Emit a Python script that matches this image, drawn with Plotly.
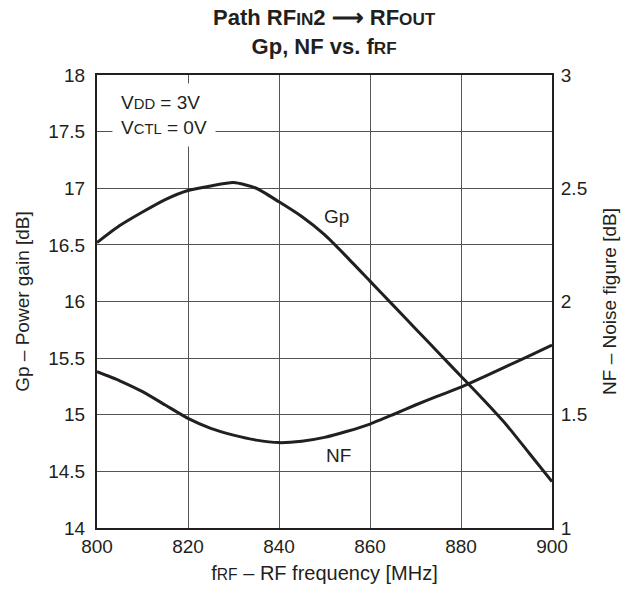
import plotly.graph_objects as go

freq = [800, 805, 810, 815, 820, 825, 830, 835, 840, 845, 850, 855, 860, 865, 870, 875, 880, 885, 890, 895, 900]
gp = [16.52, 16.67, 16.79, 16.90, 16.98, 17.02, 17.05, 17.00, 16.88, 16.75, 16.59, 16.39, 16.18, 15.97, 15.76, 15.55, 15.34, 15.13, 14.91, 14.66, 14.41]
nf = [1.69, 1.65, 1.602, 1.543, 1.484, 1.44, 1.41, 1.388, 1.377, 1.383, 1.40, 1.427, 1.459, 1.50, 1.543, 1.583, 1.622, 1.667, 1.714, 1.76, 1.808]

x_ticks = [800, 820, 840, 860, 880, 900]
gp_ticks = [14, 14.5, 15, 15.5, 16, 16.5, 17, 17.5, 18]
nf_ticks = [1, 1.5, 2, 2.5, 3]

FONT = "Liberation Sans, Arial, sans-serif"
INK = "#231f20"
GRID = "#555555"
SM = "font-size:0.78em"

fig = go.Figure()
fig.add_trace(go.Scatter(x=freq, y=gp, mode="lines", line=dict(color=INK, width=3, shape="spline", smoothing=0.6),
                         showlegend=False, yaxis="y"))
fig.add_trace(go.Scatter(x=freq, y=nf, mode="lines", line=dict(color=INK, width=3, shape="spline", smoothing=0.6),
                         showlegend=False, yaxis="y2"))

axis_common = dict(showline=True, linecolor=INK, linewidth=2, mirror=True, ticks="", automargin=False,
                   tickfont=dict(family=FONT, size=19, color=INK), zeroline=False)

fig.update_layout(
    width=631, height=596,
    margin=dict(l=97, r=79, t=75, b=68),
    paper_bgcolor="white", plot_bgcolor="white",
    font=dict(family=FONT, color=INK),
    xaxis=dict(range=[800, 900], tickvals=x_ticks, showgrid=True, gridcolor=GRID, gridwidth=1,
               title=dict(text=f"f<span style='{SM}'>RF</span> – RF frequency [MHz]",
                          font=dict(family=FONT, size=20, color=INK), standoff=10),
               **axis_common),
    yaxis=dict(range=[14, 18], tickvals=gp_ticks, showgrid=True, gridcolor=GRID, gridwidth=1,
               ticklabelstandoff=6,
               title=dict(text="Gp – Power gain [dB]", font=dict(family=FONT, size=19, color=INK), standoff=14),
               **axis_common),
    yaxis2=dict(range=[1, 3], tickvals=nf_ticks, overlaying="y", side="right", showgrid=False,
                ticklabelstandoff=3,
                title=dict(text="NF – Noise figure [dB]", font=dict(family=FONT, size=19, color=INK), standoff=16),
                **axis_common),
)

fig.add_annotation(
    xref="paper", yref="paper", x=0.5, y=1.095, showarrow=False,
    text=(f"<b>Path RF<span style='{SM}'>IN</span>2 ⟶ RF<span style='{SM}'>OUT</span></b><br>"
          f"<b>Gp, NF vs. f<span style='{SM}'>RF</span></b>"),
    font=dict(family=FONT, size=22, color=INK), yanchor="middle", align="center",
)

fig.add_annotation(
    xref="x", yref="y", x=803.4, y=17.93, xanchor="left", yanchor="top", showarrow=False, align="left",
    text=(f"V<span style='{SM}'>DD</span> = 3V<br>V<span style='{SM}'>CTL</span> = 0V"),
    font=dict(family=FONT, size=19, color=INK), bgcolor="white", borderpad=8,
)

fig.add_annotation(xref="x", yref="y", x=852.7, y=16.75, text="Gp", showarrow=False,
                   font=dict(family=FONT, size=19, color=INK))
fig.add_annotation(xref="x", yref="y", x=853, y=14.64, text="NF", showarrow=False,
                   font=dict(family=FONT, size=19, color=INK))

fig.write_html("out.html")
